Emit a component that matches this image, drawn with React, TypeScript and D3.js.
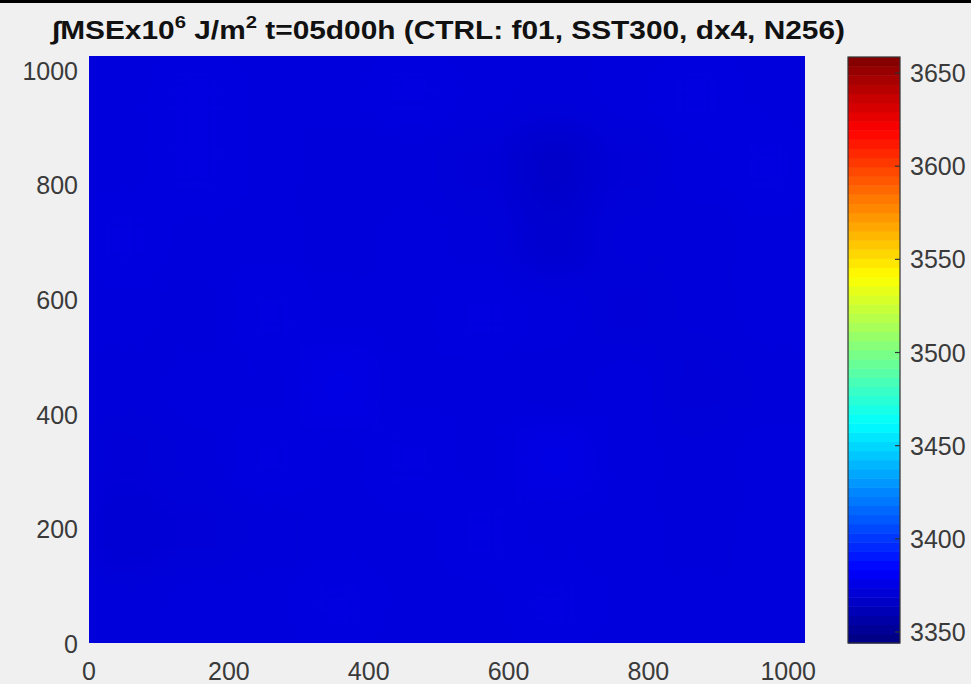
import React from "react";
import * as d3 from "d3";

const xTicks = [0, 200, 400, 600, 800, 1000];
const yTicks = [0, 200, 400, 600, 800, 1000];
const cbTicks = [3350, 3400, 3450, 3500, 3550, 3600, 3650];
const cbDomain = [3344.1, 3658.6];
const fieldExtent = [0, 1024];
// coarse estimate of the field, rows from top (y=1024) to bottom (y=0)
const fieldRows: number[][] = [
  [3373, 3374, 3373, 3373, 3374, 3373, 3372, 3373, 3374, 3373],
  [3373, 3374, 3373, 3372, 3372, 3371, 3367, 3371, 3373, 3374],
  [3374, 3373, 3373, 3372, 3373, 3372, 3369, 3372, 3372, 3373],
  [3373, 3372, 3374, 3373, 3373, 3374, 3373, 3371, 3372, 3373],
  [3372, 3373, 3373, 3375, 3373, 3373, 3372, 3373, 3371, 3372],
  [3371, 3372, 3374, 3373, 3374, 3373, 3375, 3373, 3372, 3373],
  [3370, 3371, 3372, 3373, 3373, 3374, 3373, 3373, 3372, 3373],
  [3372, 3373, 3373, 3374, 3373, 3373, 3374, 3373, 3373, 3373],
];
const titleParts = ["∫MSEx10", "6", " J/m", "2", " t=05d00h (CTRL: f01, SST300, dx4, N256)"];

function jet(t: number): string {
  const c = (v: number) => Math.max(0, Math.min(1, v));
  const r = c(Math.min(4 * t - 1.5, -4 * t + 4.5));
  const g = c(Math.min(4 * t - 0.5, -4 * t + 3.5));
  const b = c(Math.min(4 * t + 0.5, -4 * t + 2.5));
  return d3.rgb(r * 255, g * 255, b * 255).formatHex();
}

export default function App() {
  const W = 971, H = 684;
  const px0 = 89, px1 = 805, py0 = 56, py1 = 643;
  const cx0 = 848, cx1 = 900, cy0 = 57, cy1 = 643;
  const x = d3.scaleLinear().domain(fieldExtent).range([px0, px1]);
  const y = d3.scaleLinear().domain(fieldExtent).range([py1, py0]);
  const cbY = d3.scaleLinear().domain(cbDomain).range([cy1, cy0]);
  const tScale = d3.scaleLinear().domain(cbDomain).range([0, 1]);
  const color = (v: number) => jet(tScale(v));

  const nRows = fieldRows.length, nCols = fieldRows[0].length;
  const cw = (fieldExtent[1] - fieldExtent[0]) / nCols;
  const ch = (fieldExtent[1] - fieldExtent[0]) / nRows;
  const mean = d3.mean(fieldRows.flat()) as number;

  const nBands = 64;
  const bands = d3.range(nBands).map((i) => {
    const v0 = cbDomain[0] + ((cbDomain[1] - cbDomain[0]) * i) / nBands;
    const v1 = cbDomain[0] + ((cbDomain[1] - cbDomain[0]) * (i + 1)) / nBands;
    return { v0, v1, c: jet((i + 0.5) / nBands) };
  });

  const font = "'Liberation Sans', Arial, Helvetica, sans-serif";
  const tickColor = "#3a3a3a";
  const fs = 25;

  return (
    <svg width={W} height={H} style={{ position: "absolute", left: 0, top: 0, background: "#f0f0f0" }}>
      <defs>
        <clipPath id="plotClip">
          <rect x={px0} y={py0} width={px1 - px0} height={py1 - py0} />
        </clipPath>
        <filter id="blur" x="-10%" y="-10%" width="120%" height="120%">
          <feGaussianBlur stdDeviation="16" />
        </filter>
      </defs>
      <rect x={0} y={0} width={W} height={H} fill="#f0f0f0" />
      <rect x={0} y={0} width={W} height={3} fill="#000" />

      <text x={52} y={39} fontFamily={font} fontWeight="bold" fontSize={25} fill="#111"
        textLength={793} lengthAdjust="spacingAndGlyphs">
        <tspan>{titleParts[0]}</tspan>
        <tspan dy={-11} fontSize={17}>{titleParts[1]}</tspan>
        <tspan dy={11}>{titleParts[2]}</tspan>
        <tspan dy={-11} fontSize={17}>{titleParts[3]}</tspan>
        <tspan dy={11}>{titleParts[4]}</tspan>
      </text>

      <g clipPath="url(#plotClip)">
        <rect x={px0} y={py0} width={px1 - px0} height={py1 - py0} fill={color(mean)} />
        <g filter="url(#blur)">
          {fieldRows.map((row, ri) =>
            row.map((v, ci) => {
              const xa = fieldExtent[0] + ci * cw;
              const ya = fieldExtent[1] - ri * ch;
              return (
                <rect
                  key={`${ri}-${ci}`}
                  x={x(xa)}
                  y={y(ya)}
                  width={x(xa + cw) - x(xa)}
                  height={y(ya - ch) - y(ya)}
                  fill={color(v)}
                />
              );
            })
          )}
        </g>
      </g>

      {xTicks.map((t) => (
        <text key={`x${t}`} x={x(t)} y={680} textAnchor="middle" fontFamily={font} fontSize={fs} fill={tickColor}>
          {t}
        </text>
      ))}
      {yTicks.map((t) => (
        <text key={`y${t}`} x={78} y={y(t) + 10} textAnchor="end" fontFamily={font} fontSize={fs} fill={tickColor}>
          {t}
        </text>
      ))}

      <g>
        {bands.map((b, i) => (
          <rect key={i} x={cx0} y={cbY(b.v1)} width={cx1 - cx0} height={cbY(b.v0) - cbY(b.v1) + 0.5} fill={b.c} />
        ))}
        <rect x={cx0} y={cy0} width={cx1 - cx0} height={cy1 - cy0} fill="none" stroke="#333" strokeWidth={1.2} />
        {cbTicks.map((t) => (
          <g key={`c${t}`}>
            <line x1={cx1 - 5} x2={cx1} y1={cbY(t)} y2={cbY(t)} stroke="#333" strokeWidth={1.2} />
            <text x={910} y={cbY(t) + 9} fontFamily={font} fontSize={fs} fill={tickColor}>
              {t}
            </text>
          </g>
        ))}
      </g>
    </svg>
  );
}
